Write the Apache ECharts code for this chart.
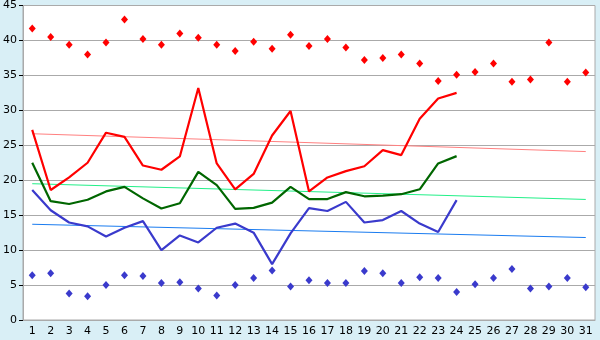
<!DOCTYPE html>
<html>
<head>
<meta charset="utf-8">
<script src="https://cdn.jsdelivr.net/npm/echarts@6/dist/echarts.min.js"></script>
<style>
html,body{margin:0;padding:0;background:#d9eff6;}
#c{width:600px;height:340px;}
</style>
</head>
<body>
<div id="c"></div>
<script>
const days = ['1','2','3','4','5','6','7','8','9','10','11','12','13','14','15','16','17','18','19','20','21','22','23','24','25','26','27','28','29','30','31'];
const yTicks = {min: 0, max: 45, interval: 5};

const maxRecord = [41.7,40.5,39.4,38.0,39.7,43.0,40.2,39.4,41.0,40.4,39.4,38.5,39.8,38.8,40.8,39.2,40.2,39.0,37.2,37.5,38.0,36.7,34.2,35.1,35.5,36.7,34.1,34.4,39.7,34.1,35.4];
const minRecord = [6.4,6.7,3.8,3.4,5.0,6.4,6.3,5.3,5.4,4.5,3.5,5.0,6.0,7.1,4.8,5.7,5.3,5.3,7.0,6.7,5.3,6.1,6.0,4.0,5.1,6.0,7.3,4.5,4.8,6.0,4.7];
const maxTemp = [27.2,18.6,20.4,22.5,26.8,26.2,22.1,21.5,23.4,33.2,22.4,18.7,20.9,26.4,29.9,18.4,20.4,21.3,22.0,24.3,23.6,28.8,31.7,32.5];
const meanTemp = [22.5,17.0,16.6,17.2,18.4,19.05,17.4,15.95,16.7,21.2,19.3,15.9,16.05,16.8,19.05,17.3,17.3,18.3,17.7,17.8,18.0,18.7,22.4,23.45];
const minTemp = [18.6,15.7,13.95,13.4,11.95,13.2,14.15,10.0,12.1,11.1,13.2,13.8,12.5,8.0,12.4,16.0,15.6,16.9,13.95,14.3,15.6,13.8,12.6,17.15];
const maxTrendEnds = [26.65, 24.1];
const meanTrendEnds = [19.5, 17.25];
const minTrendEnds = [13.7, 11.8];

function trend(ends){ return [[days[0], ends[0]], [days[days.length-1], ends[1]]]; }

const chart = echarts.init(document.getElementById('c'), null, {renderer:'canvas'});
const font = 'DejaVu Sans';
chart.setOption({
  animation: false,
  backgroundColor: '#d9eff6',
  grid: {left: 20, right: 5, top: 5, bottom: 20, show: true, backgroundColor: '#ffffff', borderColor: '#aaaaaa', borderWidth: 1},
  xAxis: {
    type: 'category', data: days, boundaryGap: true,
    axisLine: {lineStyle: {color: '#aaaaaa', width: 1}},
    axisTick: {alignWithLabel: true, length: 4, lineStyle: {color: '#000000'}},
    axisLabel: {color: '#000', fontFamily: font, fontSize: 11, margin: 6, interval: 0},
    splitLine: {show: false}
  },
  yAxis: {
    type: 'value', min: yTicks.min, max: yTicks.max, interval: yTicks.interval,
    axisLine: {show: true, lineStyle: {color: '#aaaaaa', width: 1}},
    axisTick: {show: true, length: 4, lineStyle: {color: '#000000'}},
    axisLabel: {color: '#000', fontFamily: font, fontSize: 11, margin: 6},
    splitLine: {show: true, lineStyle: {color: '#aaaaaa', width: 1}}
  },
  series: [
    {type: 'line', data: trend(maxTrendEnds), symbol: 'none', lineStyle: {color: '#ff8080', width: 1}, silent: true},
    {type: 'line', data: trend(meanTrendEnds), symbol: 'none', lineStyle: {color: '#22f088', width: 1}, silent: true},
    {type: 'line', data: trend(minTrendEnds), symbol: 'none', lineStyle: {color: '#1a7cf0', width: 1}, silent: true},
    {type: 'line', data: maxTemp, symbol: 'none', lineStyle: {color: '#ff0000', width: 2.2}},
    {type: 'line', data: meanTemp, symbol: 'none', lineStyle: {color: '#006600', width: 2.2}},
    {type: 'line', data: minTemp, symbol: 'none', lineStyle: {color: '#3a3acc', width: 2.2}},
    {type: 'scatter', data: maxRecord, symbol: 'diamond', symbolSize: [7,8], itemStyle: {color: '#ff0000', opacity: 1}},
    {type: 'scatter', data: minRecord, symbol: 'diamond', symbolSize: [7,8], itemStyle: {color: '#3a3acc', opacity: 1}}
  ]
});
</script>
</body>
</html>
